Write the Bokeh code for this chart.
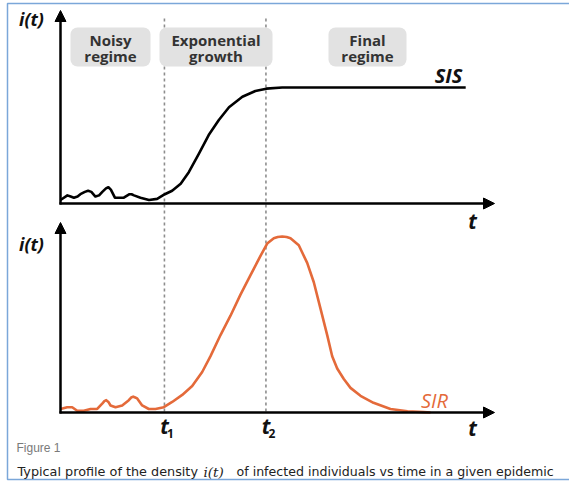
from bokeh.plotting import figure
from bokeh.models import Range1d, Label, Arrow, NormalHead
from bokeh.embed import file_html
from bokeh.resources import INLINE

# ---------------- data ----------------
# time axis in arbitrary units, i(t) normalised to the SIS plateau / SIR peak
sis_t = [0, 1.7, 2.5, 3.3, 4.2, 4.9, 6.0, 6.8, 7.6, 8.6, 9.5, 10.3, 11.2, 11.8, 12.4, 13.4,
         15.6, 17.0, 17.5, 18.1, 19.7, 21.8, 23.8, 25.7, 27.5, 29.6, 31.6, 34.1, 36.5, 39.0,
         41.5, 44.8, 48.0, 50.7, 54.6, 57.9, 99.8]
sis_i = [0.03, 0.07, 0.06, 0.05, 0.06, 0.08, 0.10, 0.11, 0.10, 0.06, 0.07, 0.10, 0.13, 0.14,
         0.12, 0.05, 0.05, 0.08, 0.08, 0.07, 0.05, 0.03, 0.04, 0.08, 0.11, 0.17, 0.27, 0.43,
         0.59, 0.72, 0.83, 0.92, 0.97, 0.99, 1.0, 1.0, 1.0]

sir_t = [0, 1.65, 2.88, 4.11, 5.74, 7.39, 9.04, 10.27, 10.8, 11.26, 11.8, 12.32, 13.55, 15.20,
         16.82, 17.4, 17.91, 18.4, 18.89, 20.12, 21.75, 23.40, 25.44, 27.51, 29.98, 32.44,
         34.90, 36.95, 39.41, 41.87, 44.33, 46.80, 49.26, 50.91, 52.54, 53.5, 54.61, 55.7,
         56.65, 58.69, 60.76, 62.39, 64.04, 65.69, 66.92, 68.15, 69.78, 71.43, 73.89, 77.09,
         81.28, 85.47, 89.41, 91.13]
sir_i = [0.02, 0.03, 0.03, 0.01, 0.01, 0.02, 0.02, 0.05, 0.065, 0.07, 0.06, 0.04, 0.03, 0.04,
         0.07, 0.085, 0.09, 0.085, 0.08, 0.04, 0.02, 0.02, 0.03, 0.06, 0.10, 0.15,
         0.23, 0.32, 0.44, 0.55, 0.67, 0.78, 0.89, 0.96, 0.99, 0.997, 1.0, 0.997,
         0.99, 0.95, 0.85, 0.74, 0.59, 0.44, 0.32, 0.25, 0.19, 0.14, 0.095, 0.055,
         0.02, 0.007, 0.002, 0.0]

t_marks = [25.6, 50.6]            # t1, t2
t_mark_subs = ["1", "2"]
regimes = [["Noisy", "regime"], ["Exponential", "growth"], ["Final", "regime"]]
caption_parts = ["Typical profile of the density", "i(t)",
                 "of infected individuals vs time in a given epidemic"]

# ---------------- layout (page pixels) ----------------
W, H = 569, 482
LEFT, RIGHT, TOP, BOTTOM = 0, W, 0, H
X0 = 60.0          # page x of the y axes (t = 0)
PX_PER_T = 4.06
Y0_TOP, PX_TOP = 203.0, 116.0   # baseline & unit height of SIS panel
Y0_BOT, PX_BOT = 412.0, 176.0   # baseline & unit height of SIR panel

p = figure(width=W, height=H, output_backend="svg", toolbar_location=None,
           x_range=Range1d((LEFT - X0) / PX_PER_T, (RIGHT - X0) / PX_PER_T),
           y_range=Range1d(BOTTOM, TOP),    # page y (top-down)
           min_border=0, outline_line_color=None, background_fill_color="white")
p.axis.visible = False
p.grid.visible = False
p.extra_x_ranges = {"px": Range1d(LEFT, RIGHT)}
p.extra_y_ranges = {
    "sis": Range1d((Y0_TOP - BOTTOM) / PX_TOP, (Y0_TOP - TOP) / PX_TOP),
    "sir": Range1d((Y0_BOT - BOTTOM) / PX_BOT, (Y0_BOT - TOP) / PX_BOT),
}

BLUE = "#7ba7d9"
ORANGE = "#e46a3a"
GRAY = "#8d8d8d"

# frame border (left/top/bottom)
p.line(x=[RIGHT, 7, 7, RIGHT], y=[3, 3, 479, 479],
       x_range_name="px", line_color=BLUE, line_width=1.5)

# dashed guide lines at t1, t2 (drawn below the regime boxes)
p.segment(x0=t_marks, x1=t_marks, y0=[18] * 2, y1=[Y0_BOT] * 2,
          line_color=GRAY, line_width=1.6, line_dash="3 3")

# regime boxes
box_l = [70, 159, 328]
box_r = [150, 272, 406]
p.quad(left=box_l, right=box_r, top=[27] * 3, bottom=[66] * 3, x_range_name="px",
       fill_color="#e2e2e2", line_color=None, border_radius=7)
for (l1, l2), bl, br in zip(regimes, box_l, box_r):
    cx = (bl + br) / 2
    for txt, yy in ((l1, 39), (l2, 55)):
        p.add_layout(Label(x=cx, y=yy, x_range_name="px", text=txt, text_align="center",
                           text_baseline="middle", text_font="Open Sans", text_font_style="bold",
                           text_font_size="15px", text_color="#333333"))

# axes with arrows
def axis_arrow(xs, ys, xe, ye):
    p.add_layout(Arrow(x_start=xs, y_start=ys, x_end=xe, y_end=ye, x_range_name="px",
                       line_width=2.5, line_color="black",
                       end=NormalHead(size=11, fill_color="black", line_color="black", line_width=1)))

axis_arrow(X0, Y0_TOP + 1, X0, 10)
axis_arrow(X0 - 1, Y0_TOP, 494, Y0_TOP)
axis_arrow(X0, Y0_BOT + 1, X0, 222)
axis_arrow(X0 - 1, Y0_BOT, 494, Y0_BOT)

# curves
p.line(sis_t, sis_i, y_range_name="sis", line_color="black", line_width=2.6, line_join="round")
p.line(sir_t, sir_i, y_range_name="sir", line_color=ORANGE, line_width=2.6, line_join="round")

def lab(x, y, text, size, color="#111111", style="bold italic", align="center",
        font="Open Sans", xr="px"):
    kw = dict(x=x, y=y, text=text, text_align=align, text_baseline="middle",
              text_font=font, text_font_style=style, text_font_size=size, text_color=color)
    if xr:
        kw["x_range_name"] = xr
    p.add_layout(Label(**kw))

lab(31, 18, "i(t)", "18px")
lab(31, 243, "i(t)", "18px")
lab(448, 75, "SIS", "20px")
lab(434, 400, "SIR", "20px", color=ORANGE, style="italic")
lab(472, 220, "t", "21px")
lab(472, 427, "t", "21px")
for tm, sub in zip(t_marks, t_mark_subs):
    lab(tm, 425, "t", "21px", xr=None)
    p.add_layout(Label(x=tm, y=433, x_offset=6, text=sub, text_align="center",
                       text_baseline="middle", text_font="Open Sans", text_font_style="bold",
                       text_font_size="12px", text_color="#111111"))

# figure caption
lab(16, 447, "Figure 1", "12px", color="#7a7a7a", style="normal", align="left",
    font="Liberation Sans")
lab(17, 471, caption_parts[0], "12.8px", color="#222222", style="normal", align="left",
    font="DejaVu Sans")
lab(203, 471, caption_parts[1], "13.5px", color="#222222", style="italic", align="left",
    font="DejaVu Serif")
lab(236, 471, caption_parts[2], "12.6px", color="#222222", style="normal", align="left",
    font="DejaVu Sans")

open("out.html", "w").write(file_html(p, INLINE))
